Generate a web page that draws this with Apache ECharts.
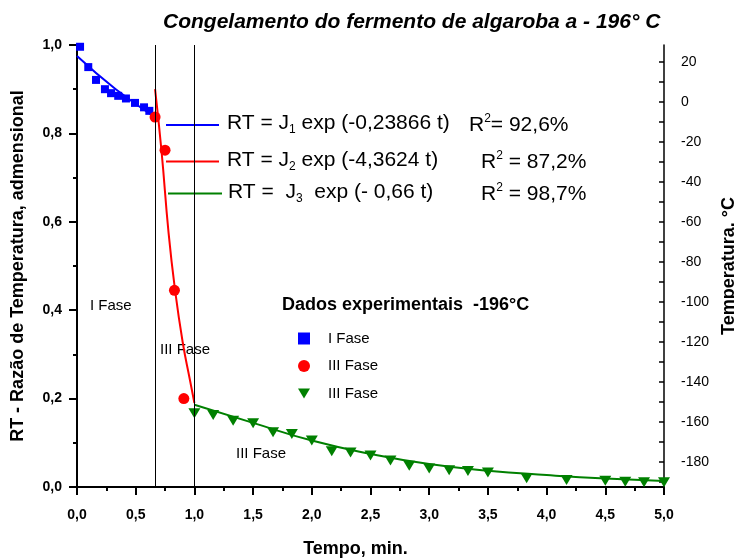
<!DOCTYPE html>
<html>
<head>
<meta charset="utf-8">
<script src="https://cdn.jsdelivr.net/npm/echarts@6/dist/echarts.min.js"></script>
<style>html,body{margin:0;padding:0;background:#fff;}#c{width:734px;height:558px;}</style>
</head>
<body>
<div id="c"></div>
<script>
// ---- data ----
const tBlue  = [0.026, 0.096, 0.162, 0.238, 0.290, 0.351, 0.417, 0.494, 0.571, 0.616];
const rtBlue = [0.996, 0.950, 0.921, 0.900, 0.891, 0.885, 0.879, 0.869, 0.859, 0.851];
const tRed  = [0.665, 0.75, 0.83, 0.91];
const rtRed = [0.837, 0.762, 0.445, 0.200];
const tGreen  = [1.0, 1.16, 1.33, 1.5, 1.67, 1.83, 2.0, 2.17, 2.33, 2.5, 2.67, 2.83, 3.0, 3.17, 3.33, 3.5, 3.83, 4.17, 4.5, 4.67, 4.83, 5.0];
const rtGreen = [0.167, 0.163, 0.150, 0.144, 0.124, 0.120, 0.105, 0.081, 0.078, 0.071, 0.060, 0.048, 0.042, 0.038, 0.036, 0.033, 0.020, 0.016, 0.014, 0.012, 0.011, 0.011];
// fitted curves
const tFit1 = [0, 0.33, 0.665];
const rtFit1 = [0.975, 0.900, 0.837];
const tFit2 = [0.665, 0.72, 0.78, 0.835, 0.90, 0.962, 1.0];
const rtFit2 = [0.900, 0.760, 0.575, 0.446, 0.328, 0.242, 0.190];
const tFit3 = [1.0, 1.5, 2.0, 2.5, 3.0, 3.5, 4.0, 4.5, 5.0];
const rtFit3 = [0.186, 0.145, 0.105, 0.075, 0.052, 0.037, 0.027, 0.019, 0.0136];
const phaseLines = [0.665, 1.0];
const rightTicks = [];
for (let v = -190; v <= 20; v += 10) rightTicks.push(v);
const rightLabels = [-180, -160, -140, -120, -100, -80, -60, -40, -20, 0, 20];
const legendNames = ['I Fase', 'III Fase', 'III Fase '];

const zip = (a, b) => a.map((x, i) => [x, b[i]]);
const F = 'Liberation Sans, Arial, sans-serif';
const comma = v => v.toFixed(1).replace('.', ',');
const triDown = 'path://M0,0 L12,0 L6,10 Z';
const M = { fontFamily: F, fontSize: 21, lineHeight: 24, verticalAlign: 'middle', fill: '#000' };
const S = { fontFamily: F, fontSize: 12, lineHeight: 24, verticalAlign: 'bottom', fill: '#000' };
const P = { fontFamily: F, fontSize: 12, lineHeight: 24, verticalAlign: 'top', fill: '#000' };

const chart = echarts.init(document.getElementById('c'));
chart.setOption({
  animation: false,
  backgroundColor: '#fff',
  title: {
    text: 'Congelamento do fermento de algaroba a - 196° C',
    left: 158, top: 7,
    textStyle: { fontFamily: F, fontSize: 21, fontWeight: 'bold', fontStyle: 'italic', color: '#000' }
  },
  grid: { left: 77, right: 70, top: 45, bottom: 71, outerBoundsMode: 'none', containLabel: false },
  legend: {
    orient: 'vertical', left: 298, top: 331, padding: 0,
    itemWidth: 12, itemHeight: 12, itemGap: 12.5,
    data: [
      { name: legendNames[0], icon: 'rect' },
      { name: legendNames[1], icon: 'circle' },
      { name: legendNames[2], icon: triDown }
    ],
    textStyle: { fontFamily: F, fontSize: 15, color: '#000', padding: [0, 0, 0, 13] }
  },
  xAxis: {
    type: 'value', min: 0, max: 5, interval: 0.5,
    name: 'Tempo, min.', nameLocation: 'middle', nameGap: 53,
    nameTextStyle: { fontFamily: F, fontSize: 18, fontWeight: 'bold', color: '#000', padding: [0, 30, 0, 0] },
    axisLine: { lineStyle: { color: '#000', width: 2 } },
    axisTick: { length: 8, lineStyle: { color: '#000', width: 2 } },
    minorTick: { show: true, splitNumber: 2, length: 4, lineStyle: { color: '#000', width: 2 } },
    axisLabel: { fontFamily: F, fontSize: 14, fontWeight: 'bold', color: '#000', margin: 21, formatter: comma },
    splitLine: { show: false }
  },
  yAxis: [{
    type: 'value', min: 0, max: 1, interval: 0.2, position: 'left',
    name: 'RT - Razão de Temperatura, admensional', nameLocation: 'middle', nameGap: 50,
    nameTextStyle: { fontFamily: F, fontSize: 18, fontWeight: 'bold', color: '#000' },
    axisLine: { show: true, lineStyle: { color: '#000', width: 2 } },
    axisTick: { show: true, length: 8, lineStyle: { color: '#000', width: 2 } },
    minorTick: { show: true, splitNumber: 2, length: 4, lineStyle: { color: '#000', width: 2 } },
    axisLabel: { fontFamily: F, fontSize: 14, fontWeight: 'bold', color: '#000', margin: 15, formatter: comma },
    splitLine: { show: false }
  }, {
    type: 'value', min: -192.6, max: 28.4, position: 'right',
    name: 'Temperatura, °C', nameLocation: 'middle', nameGap: 53, nameRotate: 90,
    nameTextStyle: { fontFamily: F, fontSize: 18, fontWeight: 'bold', color: '#000' },
    axisLine: { show: true, lineStyle: { color: '#000', width: 1.5 } },
    axisTick: { show: true, inside: true, length: 5, customValues: rightTicks, lineStyle: { color: '#000', width: 1.5 } },
    axisLabel: { fontFamily: F, fontSize: 14, color: '#000', margin: 17, customValues: rightLabels },
    splitLine: { show: false }
  }],
  graphic: [
    // equation keys
    { type: 'line', shape: { x1: 166, y1: 125, x2: 219, y2: 125 }, style: { stroke: '#0000ff', lineWidth: 2 } },
    { type: 'line', shape: { x1: 166, y1: 161.5, x2: 219, y2: 161.5 }, style: { stroke: '#ff0000', lineWidth: 2 } },
    { type: 'line', shape: { x1: 168, y1: 193.5, x2: 222, y2: 193.5 }, style: { stroke: '#008000', lineWidth: 2 } },
    { type: 'text', left: 227, top: 113, style: { text: '{m|RT = J}{s|1}{m| exp (-0,23866 t)}', rich: { m: M, s: S } } },
    { type: 'text', left: 469, top: 113, style: { text: '{m|R}{p|2}{m|= 92,6%}', rich: { m: M, p: P } } },
    { type: 'text', left: 227, top: 150, style: { text: '{m|RT = J}{s|2}{m| exp (-4,3624 t)}', rich: { m: M, s: S } } },
    { type: 'text', left: 481, top: 150, style: { text: '{m|R}{p|2}{m| = 87,2%}', rich: { m: M, p: P } } },
    { type: 'text', left: 228, top: 182, style: { text: '{m|RT =  J}{s|3}{m|  exp (- 0,66 t)}', rich: { m: M, s: S } } },
    { type: 'text', left: 481, top: 182, style: { text: '{m|R}{p|2}{m| = 98,7%}', rich: { m: M, p: P } } },
    // legend heading
    { type: 'text', left: 282, top: 296, style: { text: 'Dados experimentais  -196°C', fontFamily: F, fontSize: 18, fontWeight: 'bold', fill: '#000' } },
    // phase labels
    { type: 'text', left: 90, top: 298, style: { text: 'I Fase', fontFamily: F, fontSize: 15, fill: '#000' } },
    { type: 'text', left: 160, top: 342, style: { text: 'III Fase', fontFamily: F, fontSize: 15, fill: '#000' } },
    { type: 'text', left: 236, top: 446, style: { text: 'III Fase', fontFamily: F, fontSize: 15, fill: '#000' } }
  ],
  series: [
    { type: 'line', data: zip(tFit1, rtFit1), showSymbol: false, smooth: true, lineStyle: { color: '#0000ff', width: 2 }, z: 2,
      markLine: { silent: true, symbol: 'none', label: { show: false },
        lineStyle: { color: '#000', width: 1, type: 'solid' },
        data: phaseLines.map(v => ({ xAxis: v })) } },
    { type: 'line', data: zip(tFit2, rtFit2), showSymbol: false, smooth: true, lineStyle: { color: '#ff0000', width: 2 }, z: 2 },
    { type: 'line', data: zip(tFit3, rtFit3), showSymbol: false, smooth: true, lineStyle: { color: '#008000', width: 2 }, z: 2 },
    { name: legendNames[0], type: 'scatter', data: zip(tBlue, rtBlue), symbol: 'rect', symbolSize: 8, itemStyle: { color: '#0000ff', opacity: 1 }, z: 3 },
    { name: legendNames[1], type: 'scatter', data: zip(tRed, rtRed), symbol: 'circle', symbolSize: 11, itemStyle: { color: '#ff0000', opacity: 1 }, z: 3 },
    { name: legendNames[2], type: 'scatter', data: zip(tGreen, rtGreen), symbol: triDown, symbolSize: [12, 10], itemStyle: { color: '#008000', opacity: 1 }, z: 3 }
  ]
});
</script>
</body>
</html>
